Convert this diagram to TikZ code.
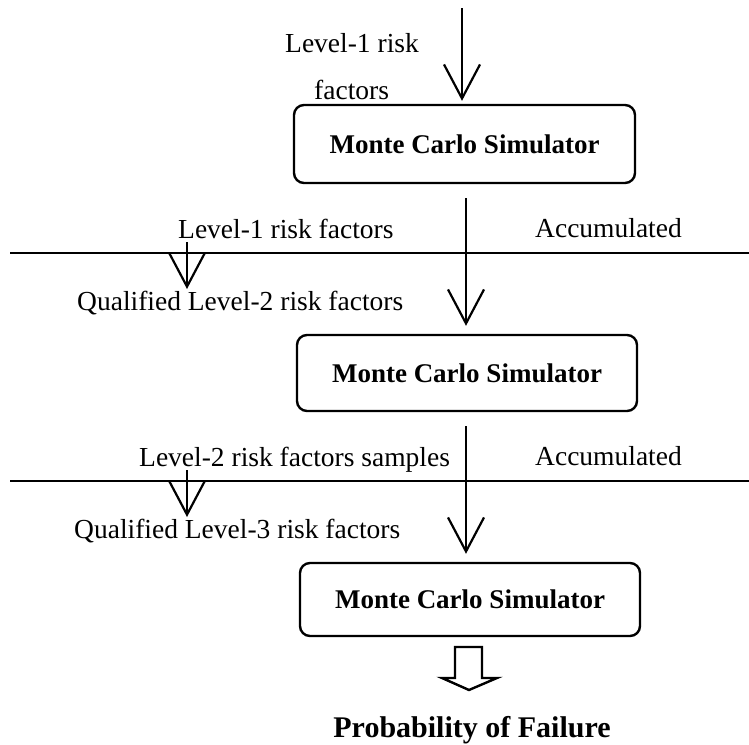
\documentclass[tikz,border=0pt]{standalone}
\usepackage{fontspec}
\setmainfont{Liberation Serif}
\usetikzlibrary{arrows.meta}
\begin{document}
\begin{tikzpicture}[x=1pt,y=-1pt,
  lbl/.style={inner sep=0pt,anchor=base west,font=\fontsize{27.5}{33}\selectfont},
  sim/.style={draw,line width=2.4pt,rounded corners=10pt,inner sep=0pt,
    font=\fontsize{27}{32}\selectfont\bfseries},
  flow/.style={line width=2.2pt,-{Straight Barb[length=34pt,width=36pt,line width=2.2pt]}},
  split/.style={line width=2.8pt},
  blockarrow/.style={draw,line width=2.4pt,line join=miter}]
\useasboundingbox (0,0) rectangle (749,744);

% simulator boxes
\node[sim,minimum width=341pt,minimum height=78pt] (box1) at (464.5,144) {Monte Carlo Simulator};
\node[sim,minimum width=340pt,minimum height=76pt] (box2) at (467,373) {Monte Carlo Simulator};
\node[sim,minimum width=340pt,minimum height=73pt] (box3) at (470,599.5) {Monte Carlo Simulator};

% labels
\node[lbl] (in1) at (285,52) {Level-1 risk};
\node[lbl] (in2) at (314,99) {factors};
\node[lbl] (l1) at (178,238) {Level-1 risk factors};
\node[lbl] (acc1) at (535,237) {Accumulated};
\node[lbl] (q2) at (77,310) {Qualified Level-2 risk factors};
\node[lbl] (l2) at (139,466) {Level-2 risk factors samples};
\node[lbl] (acc2) at (535,465) {Accumulated};
\node[lbl] (q3) at (74,538) {Qualified Level-3 risk factors};
\node[inner sep=0pt,anchor=base,font=\fontsize{30}{36}\selectfont\bfseries] (pof) at (472,737) {Probability of Failure};

% helper coordinates
\coordinate (top) at (462,8);
\coordinate (ax) at (466,0);
\coordinate (h1a) at (10,253);
\coordinate (h1b) at (749,253);
\coordinate (h2a) at (10,481);
\coordinate (h2b) at (749,481);
\coordinate (s1a) at (187,242);
\coordinate (s1b) at (187,289);
\coordinate (s2a) at (187,470);
\coordinate (s2b) at (187,517);

% separator lines
\draw[split] (h1a) -- (h1b);
\draw[split] (h2a) -- (h2b);

% main flow
\draw[flow,shorten >=3pt] (top) -- (top |- box1.north);
\draw[flow,shorten <=14pt,shorten >=8pt] (box1.south -| ax) -- (box2.north -| ax);
\draw[flow,shorten <=14pt,shorten >=8pt] (box2.south -| ax) -- (box3.north -| ax);

% qualified factor arrows
\draw[flow] (s1a) -- (s1b);
\draw[flow] (s2a) -- (s2b);

% hollow output arrow
\draw[blockarrow] (455,647) -- (455,678) -- (442,678) -- (469,690) -- (497,678)
  -- (482,678) -- (482,647) -- cycle;
\end{tikzpicture}
\end{document}
